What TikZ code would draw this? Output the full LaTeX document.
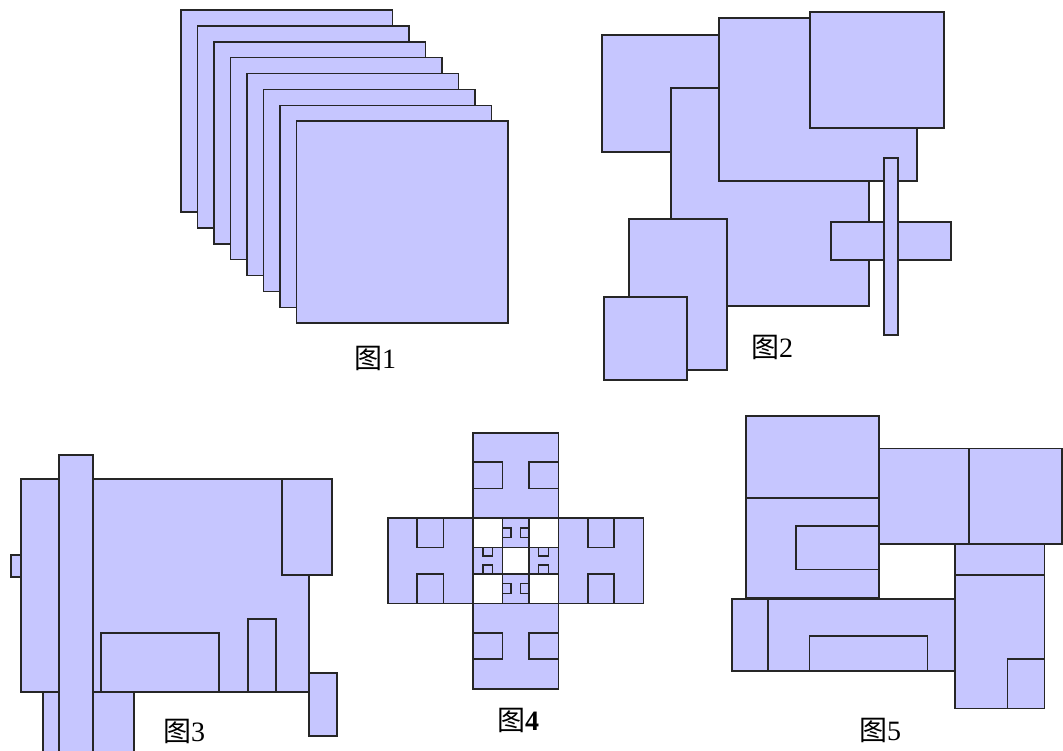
\documentclass[tikz,border=0pt]{standalone}
\usepackage{fontspec}
\setmainfont{Liberation Serif}
\newfontfamily\cjk{Noto Sans CJK SC}
\definecolor{pale}{RGB}{198,198,255}
\tikzset{
  plate/.style={draw=black!85,fill=pale,line width=1.6pt},
  hole/.style={draw=black!85,fill=white,line width=1.6pt},
  figlabel/.style={font=\fontsize{28}{30}\selectfont,inner sep=0pt}
}
\begin{document}
\begin{tikzpicture}[x=1pt,y=-1pt]
  \clip (0,0) rectangle (1063,751);
  \fill[white] (0,0) rectangle (1063,751);
  % figure 1: stacked sheets
  \foreach \i in {0,...,7}
    \draw[plate] (181+16.5*\i,10+15.9*\i) rectangle ++(211.5,202);
  \node[figlabel] (lab1) at (375,358) {{\cjk 图}1};
  % figure 2
  \draw[plate] (602,35) rectangle (720,152);
  \draw[plate] (671,88) rectangle (869,306);
  \draw[plate] (719,18) rectangle (917,181);
  \draw[plate] (810,12) rectangle (944,128);
  \draw[plate] (629,219) rectangle (727,370);
  \draw[plate] (604,297) rectangle (687,380);
  \draw[plate] (831,222) rectangle (951,260);
  \draw[plate] (884,158) rectangle (898,335);
  \node[figlabel] (lab2) at (772,347) {{\cjk 图}2};
  % figure 3
  \draw[plate] (43,691.7) rectangle (134,770);
  \draw[plate] (11,555) rectangle (21,577);
  \draw[plate] (21,479) rectangle (309,691.7);
  \draw[plate] (282,479) rectangle (332,575);
  \draw[plate] (101,633) rectangle (219,691.7);
  \draw[plate] (248,619) rectangle (276,691.7);
  \draw[plate] (309,673) rectangle (337,736);
  \draw[plate] (59,455) rectangle (93,770);
  \node[figlabel] (lab3) at (184,731) {{\cjk 图}3};
  % figure 4: cross
  \draw[plate] (473,432.7) rectangle (558.3,518);
  \draw[plate] (473,603.3) rectangle (558.3,688.7);
  \draw[plate] (387.7,518) rectangle (473,603.3);
  \draw[plate] (558.3,518) rectangle (643.3,603.3);
  \draw[hole] (473,518) rectangle (558.3,603.3);
  \draw[plate] (502.5,518) rectangle (528.8,547.5);
  \draw[plate] (502.5,573.8) rectangle (528.8,603.3);
  \draw[plate] (473,547.5) rectangle (502.5,573.8);
  \draw[plate] (528.8,547.5) rectangle (558.3,573.8);
  \draw[line width=1.6pt,draw=black!85] (473,518) rectangle (558.3,603.3);
  % notches, arms
  \draw[plate] (473,462.2) rectangle (502.5,488.5);
  \draw[plate] (528.8,462.2) rectangle (558.3,488.5);
  \draw[plate] (473,632.8) rectangle (502.5,659.1);
  \draw[plate] (528.8,632.8) rectangle (558.3,659.1);
  \draw[plate] (417.2,518) rectangle (443.5,547.5);
  \draw[plate] (417.2,573.8) rectangle (443.5,603.3);
  \draw[plate] (587.8,518) rectangle (614.1,547.5);
  \draw[plate] (587.8,573.8) rectangle (614.1,603.3);
  % notches, centre
  \draw[plate] (502.5,527.8) rectangle (511.0,537.6);
  \draw[plate] (520.3,527.8) rectangle (528.8,537.6);
  \draw[plate] (502.5,583.6) rectangle (511.0,593.4);
  \draw[plate] (520.3,583.6) rectangle (528.8,593.4);
  \draw[plate] (482.8,547.5) rectangle (492.6,556.2);
  \draw[plate] (482.8,565.1) rectangle (492.6,573.8);
  \draw[plate] (538.6,547.5) rectangle (548.4,556.2);
  \draw[plate] (538.6,565.1) rectangle (548.4,573.8);
  \node[figlabel] (lab4) at (518,720) {{\cjk 图}\textbf{4}};
  % figure 5
  \draw[plate] (746,415.7) rectangle (879,498);
  \draw[plate] (746,498) rectangle (879,598);
  \draw[plate] (795.7,526) rectangle (879,569.3);
  \draw[plate] (879,448.3) rectangle (969,544);
  \draw[plate] (969,448.3) rectangle (1062,544);
  \draw[plate] (955,544) rectangle (1044.3,575);
  \draw[plate] (955,575) rectangle (1044.3,708.3);
  \draw[plate] (1007.3,658.7) rectangle (1044.3,708.3);
  \draw[plate] (732,598.7) rectangle (955,671);
  \draw[plate] (767.7,598.7) rectangle (955,671);
  \draw[plate] (809.3,635.7) rectangle (927.3,671);
  \node[figlabel] (lab5) at (880,730) {{\cjk 图}5};
\end{tikzpicture}
\end{document}
